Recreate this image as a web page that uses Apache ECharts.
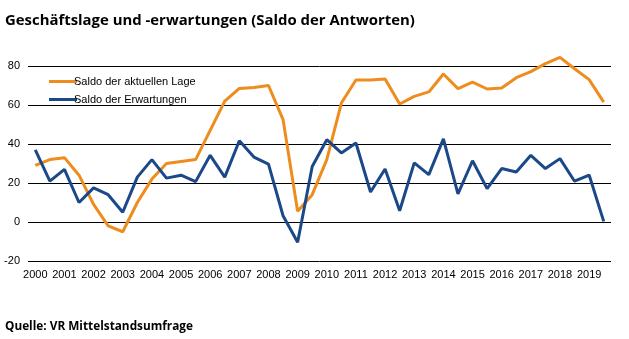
<!DOCTYPE html>
<html>
<head>
<meta charset="utf-8">
<script src="https://cdn.jsdelivr.net/npm/echarts@6/dist/echarts.min.js"></script>
<style>
  html, body { margin: 0; padding: 0; background: #fff; }
  #chart { width: 629px; height: 339px; }
</style>
</head>
<body>
<div id="chart"></div>
<script>
// Half-year survey waves, spring and autumn, 2000 to 2019
const years = [2000, 2001, 2002, 2003, 2004, 2005, 2006, 2007, 2008, 2009,
               2010, 2011, 2012, 2013, 2014, 2015, 2016, 2017, 2018, 2019];
const waves = [];
years.forEach(y => { waves.push('Frühjahr ' + y); waves.push('Herbst ' + y); });

// Balance of answers: current business situation
const lage = [29, 32, 33, 24, 9, -2, -5, 10, 22, 30,
              31, 32, 47, 62, 68.5, 69, 70, 52.5, 5.5, 14,
              32, 61, 72.8, 72.8, 73.3, 60.5, 64.4, 66.7, 75.9, 68.4,
              71.7, 68.2, 68.7, 74, 77.1, 81.2, 84.4, 78.6, 73, 61.5];

// Balance of answers: business expectations
const erwartungen = [37, 21, 27, 10, 17.5, 14, 5, 23, 32, 22.5,
                     24, 20.7, 34.2, 23, 41.7, 33.3, 29.7, 3.2, -10.4, 28.5,
                     42.2, 35.4, 40.5, 15.4, 27.2, 5.8, 30.3, 24.3, 42.6, 14.4,
                     31.4, 17.1, 27.4, 25.6, 34.2, 27.4, 32.5, 20.9, 24.1, 0.3];

const yTicks = { min: -20, max: 80, step: 20 };

const chart = echarts.init(document.getElementById('chart'));
chart.setOption({
  backgroundColor: '#ffffff',
  animation: false,
  title: [
    {
      text: 'Geschäftslage und -erwartungen (Saldo der Antworten)',
      left: 0, top: 8,
      textStyle: { fontFamily: 'Open Sans', fontWeight: 'bold', fontSize: 14.9, color: '#000' }
    },
    {
      text: 'Quelle: VR Mittelstandsumfrage',
      left: 0, top: 316,
      textStyle: { fontFamily: 'Open Sans', fontWeight: 'bold', fontSize: 11.8, color: '#000' }
    }
  ],
  legend: {
    orient: 'vertical',
    left: 44, top: 71,
    itemWidth: 28, itemHeight: 3, itemGap: 7,
    icon: 'rect',
    textStyle: { fontFamily: 'Liberation Sans', fontSize: 11, color: '#000', padding: [0, 0, 0, -8] },
    data: ['Saldo der aktuellen Lage', 'Saldo der Erwartungen']
  },
  grid: { left: 28, right: 18, top: 66, bottom: 78, containLabel: false },
  xAxis: {
    type: 'category',
    data: waves,
    boundaryGap: true,
    axisLine: { show: false },
    axisTick: { show: false },
    axisLabel: {
      interval: 1,
      margin: 8,
      fontFamily: 'Liberation Sans', fontSize: 11, color: '#000',
      formatter: v => v.split(' ')[1]
    }
  },
  yAxis: {
    type: 'value',
    min: yTicks.min, max: yTicks.max, interval: yTicks.step,
    axisLine: { show: false },
    axisTick: { show: false },
    axisLabel: { margin: 8, fontFamily: 'Liberation Sans', fontSize: 11, color: '#000' },
    splitLine: { lineStyle: { color: '#000', width: 1 } }
  },
  series: [
    {
      name: 'Saldo der aktuellen Lage',
      type: 'line',
      data: lage,
      symbol: 'none',
      clip: false,
      color: '#EE8C1E',
      lineStyle: { width: 3, color: '#EE8C1E' }
    },
    {
      name: 'Saldo der Erwartungen',
      type: 'line',
      data: erwartungen,
      symbol: 'none',
      clip: false,
      color: '#1B4889',
      lineStyle: { width: 3, color: '#1B4889' }
    }
  ]
});
</script>
</body>
</html>
